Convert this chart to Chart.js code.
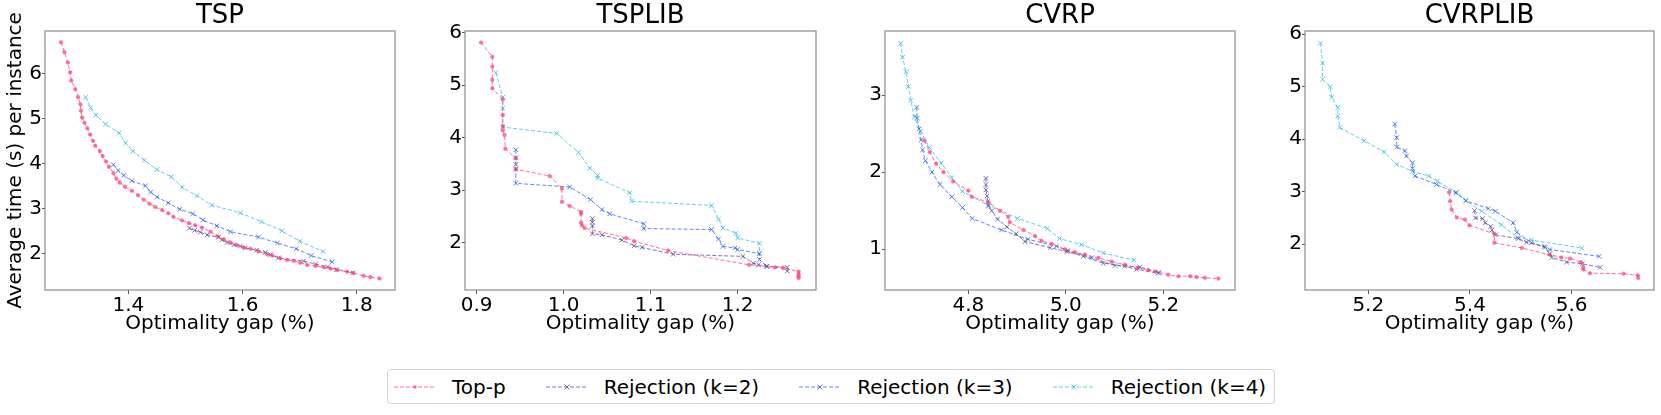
<!DOCTYPE html>
<html>
<head>
<meta charset="utf-8">
<script src="https://cdn.jsdelivr.net/npm/chart.js@4.4.1/dist/chart.umd.min.js"></script>
<style>
  html, body { margin:0; padding:0; background:#fff; }
  body { width:1661px; height:415px; position:relative; overflow:hidden; font-family:'DejaVu Sans', sans-serif; }
  canvas.panel { position:absolute; top:0; }
  #legend { position:absolute; left:387px; top:369px; height:35px; box-sizing:border-box;
            border:1px solid #d4d4d4; border-radius:4px; display:flex; align-items:center;
            padding:0 8px 0 6px; font-size:20px; color:#000; white-space:nowrap; background:#fff; }
  #legend .item { display:flex; align-items:center; margin-right:40px; }
  #legend .item:last-child { margin-right:0; }
  #legend svg { margin-right:16px; }
</style>
</head>
<body>
<canvas id="c0" class="panel"></canvas>
<canvas id="c1" class="panel"></canvas>
<canvas id="c2" class="panel"></canvas>
<canvas id="c3" class="panel"></canvas>
<div id="legend"></div>
<script>
// ---------------- DATA ----------------
const seriesNames = ['Top-p', 'Rejection (k=2)', 'Rejection (k=3)', 'Rejection (k=4)'];
const panelTitles = ['TSP', 'TSPLIB', 'CVRP', 'CVRPLIB'];
const xAxisLabel = 'Optimality gap (%)';
const yAxisLabel = 'Average time (s) per instance';

// TSP
const tspTopX = [1.282,1.288,1.294,1.298,1.300,1.307,1.312,1.316,1.317,1.319,1.323,1.328,1.333,1.338,1.342,1.350,1.355,1.361,1.366,1.374,1.379,1.385,1.394,1.406,1.417,1.427,1.437,1.447,1.459,1.470,1.479,1.494,1.506,1.517,1.529,1.544,1.556,1.567,1.579,1.590,1.602,1.614,1.628,1.643,1.652,1.666,1.678,1.690,1.701,1.713,1.728,1.742,1.754,1.765,1.783,1.794,1.812,1.824,1.840];
const tspTopY = [6.69,6.47,6.24,6.02,5.84,5.65,5.47,5.31,5.17,5.02,4.90,4.78,4.64,4.50,4.39,4.27,4.16,4.04,3.92,3.78,3.66,3.57,3.48,3.39,3.29,3.19,3.10,3.03,2.96,2.89,2.81,2.73,2.67,2.62,2.57,2.48,2.38,2.31,2.24,2.18,2.13,2.10,2.04,1.98,1.95,1.89,1.85,1.83,1.79,1.74,1.72,1.69,1.66,1.63,1.59,1.56,1.50,1.47,1.44];
const tspK2X = [1.507,1.516,1.526,1.538,1.558,1.564,1.573,1.585,1.596,1.605,1.625,1.640,1.649,1.663,1.707,1.728,1.749,1.765,1.793];
const tspK2Y = [2.56,2.51,2.47,2.41,2.36,2.30,2.24,2.19,2.16,2.12,2.07,2.02,1.97,1.90,1.83,1.76,1.70,1.64,1.57];
const tspK3X = [1.374,1.382,1.392,1.406,1.430,1.439,1.450,1.470,1.490,1.513,1.531,1.555,1.579,1.628,1.661,1.694,1.720,1.757];
const tspK3Y = [3.97,3.84,3.73,3.61,3.50,3.36,3.25,3.12,2.98,2.88,2.74,2.61,2.48,2.36,2.23,2.10,1.95,1.81];
const tspK4X = [1.325,1.334,1.343,1.360,1.384,1.395,1.408,1.428,1.450,1.475,1.494,1.520,1.546,1.596,1.633,1.669,1.700,1.741];
const tspK4Y = [5.47,5.24,5.07,4.87,4.67,4.45,4.27,4.07,3.86,3.70,3.47,3.28,3.07,2.90,2.70,2.50,2.27,2.04];

// TSPLIB
const tsplibTopX = [0.905,0.918,0.918,0.918,0.918,0.930,0.930,0.930,0.930,0.932,0.933,0.945,0.945,0.984,0.998,0.998,1.007,1.020,1.020,1.020,1.021,1.024,1.072,1.081,1.120,1.213,1.243,1.252,1.270,1.270,1.270,1.270];
const tsplibTopY = [5.81,5.54,5.35,5.10,4.94,4.73,4.43,4.22,4.14,4.05,3.79,3.61,3.40,3.27,3.03,2.78,2.70,2.59,2.55,2.38,2.33,2.28,2.09,2.03,1.85,1.58,1.53,1.52,1.45,1.40,1.36,1.33];
const tsplibK2X = [1.033,1.033,1.033,1.033,1.044,1.067,1.081,1.090,1.126,1.206,1.218,1.224,1.233,1.257,1.257];
const tsplibK2Y = [2.46,2.39,2.32,2.17,2.15,2.05,1.94,1.91,1.78,1.74,1.61,1.58,1.55,1.53,1.46];
const tsplibK3X = [0.945,0.945,0.945,0.945,0.945,1.007,1.031,1.044,1.053,1.092,1.092,1.170,1.178,1.183,1.197,1.200,1.225,1.225,1.234];
const tsplibK3Y = [3.77,3.62,3.49,3.40,3.13,3.06,2.82,2.63,2.55,2.36,2.27,2.25,2.07,1.93,1.90,1.87,1.79,1.68,1.55];
const tsplibK4X = [0.922,0.930,0.930,0.930,0.992,1.017,1.030,1.039,1.039,1.076,1.078,1.170,1.178,1.183,1.198,1.200,1.225,1.225];
const tsplibK4Y = [5.24,4.77,4.56,4.20,4.08,3.72,3.42,3.28,3.23,2.95,2.79,2.71,2.45,2.28,2.18,2.09,1.99,1.80];

// CVRP
const cvrpTopX = [4.710,4.721,4.734,4.749,4.769,4.800,4.807,4.841,4.865,4.882,4.885,4.913,4.937,4.950,4.971,4.998,5.019,5.039,5.067,5.094,5.121,5.149,5.169,5.184,5.210,5.231,5.255,5.268,5.285,5.313];
const cvrpTopY = [2.41,2.26,2.11,2.00,1.88,1.76,1.68,1.61,1.50,1.42,1.35,1.25,1.17,1.11,1.07,1.00,0.96,0.93,0.89,0.84,0.80,0.76,0.73,0.71,0.67,0.65,0.65,0.64,0.63,0.62];
const cvrpK2X = [4.836,4.836,4.836,4.838,4.840,4.841,4.848,4.860,4.879,4.898,4.916,4.968,5.002,5.036,5.077,5.121,5.145,5.190];
const cvrpK2Y = [1.92,1.84,1.77,1.69,1.62,1.56,1.50,1.39,1.29,1.20,1.10,1.02,0.97,0.91,0.82,0.78,0.74,0.69];
const cvrpK3X = [4.694,4.695,4.699,4.703,4.706,4.712,4.725,4.742,4.766,4.788,4.808,4.868,4.922,4.981,5.004,5.053,5.101,5.152,5.191];
const cvrpK3Y = [2.84,2.70,2.56,2.42,2.29,2.15,2.00,1.84,1.68,1.54,1.40,1.25,1.13,1.04,0.98,0.89,0.79,0.77,0.70];
const cvrpK4X = [4.661,4.665,4.672,4.677,4.682,4.689,4.702,4.720,4.744,4.766,4.788,4.841,4.901,4.962,4.987,5.032,5.077,5.140];
const cvrpK4Y = [3.67,3.49,3.30,3.11,2.93,2.72,2.53,2.32,2.12,1.93,1.75,1.57,1.40,1.27,1.14,1.06,0.95,0.86];

// CVRPLIB
const cvrplibTopX = [5.359,5.361,5.364,5.374,5.390,5.399,5.448,5.448,5.502,5.557,5.580,5.597,5.618,5.623,5.623,5.636,5.702,5.730,5.731];
const cvrplibTopY = [2.99,2.82,2.66,2.51,2.47,2.36,2.20,2.03,1.93,1.80,1.75,1.73,1.66,1.56,1.52,1.45,1.44,1.41,1.36];
const cvrplibK2X = [5.409,5.411,5.425,5.430,5.441,5.443,5.450,5.495,5.511,5.546,5.557,5.561,5.590,5.621,5.656];
const cvrplibK2Y = [2.64,2.50,2.49,2.41,2.34,2.27,2.18,2.11,2.04,1.96,1.82,1.75,1.66,1.63,1.56];
const cvrplibK3X = [5.252,5.256,5.256,5.272,5.275,5.287,5.287,5.292,5.334,5.372,5.392,5.436,5.450,5.485,5.492,5.521,5.548,5.557,5.654];
const cvrplibK3Y = [4.29,4.03,3.85,3.78,3.68,3.55,3.44,3.30,3.14,2.98,2.83,2.68,2.63,2.41,2.23,2.03,1.94,1.90,1.77];
const cvrplibK4X = [5.106,5.110,5.110,5.125,5.128,5.140,5.140,5.144,5.192,5.231,5.256,5.287,5.319,5.336,5.374,5.392,5.423,5.462,5.494,5.521,5.620];
const cvrplibK4Y = [5.83,5.45,5.14,5.00,4.80,4.60,4.44,4.22,3.97,3.76,3.52,3.39,3.30,3.20,2.99,2.83,2.63,2.37,2.13,2.08,1.93];

// axis ranges and tick steps per panel
const xRanges = [[1.254, 1.867], [0.8866, 1.290], [4.629, 5.347], [5.0755, 5.762]];
const yRanges = [[1.185, 6.94], [1.10, 6.03], [0.472, 3.83], [1.13, 6.06]];
const xSteps = [0.2, 0.1, 0.2, 0.2];
const ySteps = [1, 1, 1, 1];

// ---------------- STYLE / LAYOUT ----------------
const lineColors = ['rgba(255,64,125,0.75)', 'rgba(88,72,150,0.75)', 'rgba(45,100,228,0.75)', 'rgba(60,195,225,0.8)'];
const markColors = ['rgba(255,64,125,0.7)', 'rgba(88,72,150,0.8)', 'rgba(45,100,228,0.8)', 'rgba(60,195,225,0.85)'];
const plotLefts = [45, 465, 885, 1305];
const plotRights = [395, 816, 1235, 1654];
const yAxisW = 45, xAxisH = 55, padRight = 6, canvasH = 345;

Chart.defaults.font.family = "'DejaVu Sans', sans-serif";
Chart.defaults.color = '#000';

const panelData = [
  [[tspTopX, tspTopY], [tspK2X, tspK2Y], [tspK3X, tspK3Y], [tspK4X, tspK4Y]],
  [[tsplibTopX, tsplibTopY], [tsplibK2X, tsplibK2Y], [tsplibK3X, tsplibK3Y], [tsplibK4X, tsplibK4Y]],
  [[cvrpTopX, cvrpTopY], [cvrpK2X, cvrpK2Y], [cvrpK3X, cvrpK3Y], [cvrpK4X, cvrpK4Y]],
  [[cvrplibTopX, cvrplibTopY], [cvrplibK2X, cvrplibK2Y], [cvrplibK3X, cvrplibK3Y], [cvrplibK4X, cvrplibK4Y]]
];

const frame = {
  id: 'frame',
  afterDatasetsDraw(chart) {
    const a = chart.chartArea, c = chart.ctx;
    c.save();
    c.strokeStyle = '#8a8a8a';
    c.lineWidth = 1.2;
    c.strokeRect(a.left, a.top, a.right - a.left, a.bottom - a.top);
    c.restore();
  }
};

function makePanel(i) {
  const cv = document.getElementById('c' + i);
  const w = (plotRights[i] - plotLefts[i]) + yAxisW + padRight;
  cv.width = w; cv.height = canvasH;
  cv.style.left = (plotLefts[i] - yAxisW) + 'px';
  cv.style.width = w + 'px'; cv.style.height = canvasH + 'px';

  const datasets = panelData[i].map((s, k) => ({
    label: seriesNames[k],
    data: s[0].map((x, j) => ({x: x, y: s[1][j]})),
    showLine: true,
    borderColor: lineColors[k],
    backgroundColor: markColors[k],
    borderWidth: 1,
    borderDash: [4, 2],
    pointStyle: k === 0 ? 'circle' : 'crossRot',
    pointRadius: k === 0 ? 1.8 : 3.2,
    pointBorderWidth: k === 0 ? 0.6 : 1,
    pointBorderColor: markColors[k],
    pointBackgroundColor: markColors[k],
    pointHoverRadius: 3
  }));

  new Chart(cv, {
    type: 'scatter',
    data: { datasets },
    plugins: [frame],
    options: {
      responsive: false,
      animation: false,
      events: [],
      layout: { padding: { left: 0, right: padRight, top: 0, bottom: 0 } },
      plugins: {
        legend: { display: false },
        tooltip: { enabled: false },
        title: {
          display: true, text: panelTitles[i], fullSize: false,
          color: '#000', font: { size: 26, weight: 'normal', lineHeight: 1 },
          padding: { top: 3, bottom: 2 }
        }
      },
      scales: {
        x: {
          type: 'linear', min: xRanges[i][0], max: xRanges[i][1],
          afterFit: (s) => { s.height = xAxisH; },
          border: { display: false },
          grid: { display: true, drawOnChartArea: false, drawTicks: true, tickLength: 4, color: '#555' },
          ticks: { stepSize: xSteps[i], includeBounds: false, padding: 0, maxRotation: 0, autoSkip: false,
                   color: '#000', font: { size: 20 }, callback: (v) => v.toFixed(1) },
          title: { display: true, text: xAxisLabel, color: '#000', font: { size: 20 }, padding: { top: 0, bottom: 9 } }
        },
        y: {
          type: 'linear', min: yRanges[i][0], max: yRanges[i][1],
          afterFit: (s) => { s.width = yAxisW; },
          border: { display: false },
          grid: { display: true, drawOnChartArea: false, drawTicks: true, tickLength: 3, color: '#555' },
          ticks: { stepSize: ySteps[i], includeBounds: false, padding: 0, autoSkip: false,
                   color: '#000', font: { size: 20 }, callback: (v) => String(v) },
          title: { display: i === 0, text: yAxisLabel, color: '#000', font: { size: 20 }, padding: { top: 3.5, bottom: 0 } }
        }
      }
    }
  });
}
for (let i = 0; i < 4; i++) makePanel(i);

// legend (HTML)
const lg = document.getElementById('legend');
seriesNames.forEach((name, k) => {
  const it = document.createElement('div');
  it.className = 'item';
  const marker = k === 0
    ? `<circle cx="21" cy="7" r="1.8" fill="${markColors[k]}"/>`
    : `<path d="M18.5 4.5 L23.5 9.5 M23.5 4.5 L18.5 9.5" stroke="${markColors[k]}" stroke-width="1"/>`;
  it.innerHTML = `<svg width="42" height="14"><line x1="0" y1="7" x2="42" y2="7" stroke="${lineColors[k]}" stroke-width="1" stroke-dasharray="4 2"/>${marker}</svg><span>${name}</span>`;
  lg.appendChild(it);
});
</script>
</body>
</html>
